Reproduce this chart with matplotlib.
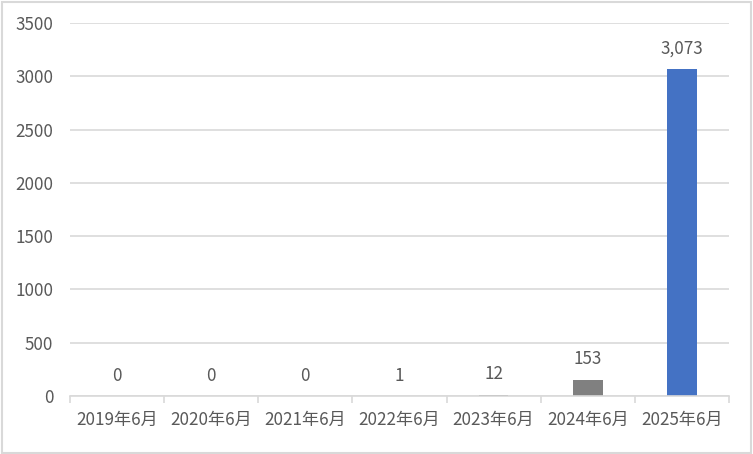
import matplotlib
matplotlib.use("Agg")
import matplotlib.pyplot as plt
from matplotlib.patches import Rectangle
import numpy as np

plt.rcParams['font.family'] = ['Noto Sans CJK SC', 'DejaVu Sans']

# ── Données ───────────────────────────────────────────────────────────────────
categories = ["2019年6月", "2020年6月", "2021年6月", "2022年6月",
              "2023年6月", "2024年6月", "2025年6月"]
values = [0, 0, 0, 1, 12, 153, 3073]
bar_colors = ["#808080"] * 6 + ["#4472C4"]
yticks = [0, 500, 1000, 1500, 2000, 2500, 3000, 3500]

TXT = "#595959"
GRID = "#D9D9D9"
FS = 12.3

fig = plt.figure(figsize=(7.53, 4.54), dpi=100)
ax = fig.add_axes([0.093, 0.128, 0.875, 0.821])

x = np.arange(len(categories))
bars = ax.bar(x, values, width=0.315, color=bar_colors, zorder=3)
ax.bar_label(bars, labels=[f"{v:,}" for v in values], padding=8,
             fontsize=FS, color=TXT)

ax.set_xlim(-0.5, len(categories) - 0.5)
ax.set_ylim(0, 3500)
ax.set_yticks(yticks)
ax.set_yticklabels([str(t) for t in yticks])
ax.grid(axis="y", color=GRID, linewidth=1.2, zorder=0)

ax.set_xticks(x)
ax.set_xticklabels(categories)
ax.set_xticks(np.arange(len(categories) + 1) - 0.5, minor=True)
ax.tick_params(axis="x", which="major", length=0, pad=11,
               labelsize=FS, labelcolor=TXT)
ax.tick_params(axis="x", which="minor", length=5, width=1.2, color=GRID)
ax.tick_params(axis="y", length=0, pad=12, labelsize=FS, labelcolor=TXT)

for s in ["top", "right", "left"]:
    ax.spines[s].set_visible(False)
ax.spines["bottom"].set_color(GRID)
ax.spines["bottom"].set_linewidth(1.2)
ax.spines["bottom"].set_zorder(4)

# cadre autour du graphique
fig.patches.append(Rectangle((0.002, 0.003), 0.995, 0.993, transform=fig.transFigure,
                             fill=False, edgecolor=GRID, linewidth=1.5))

plt.savefig("out.png", dpi=100)
plt.close()
